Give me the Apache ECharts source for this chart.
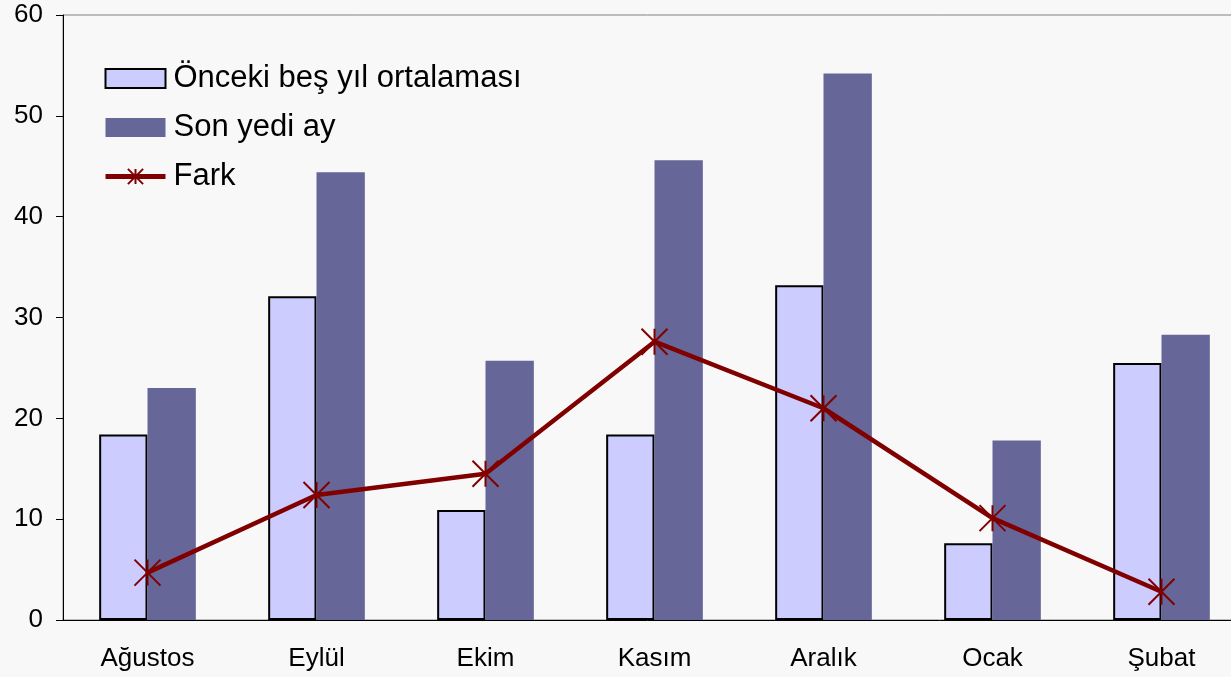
<!DOCTYPE html>
<html>
<head>
<meta charset="utf-8">
<script src="https://cdn.jsdelivr.net/npm/echarts@6/dist/echarts.min.js"></script>
<style>
  html, body { margin: 0; padding: 0; background: #F8F8F8; }
  #chart { width: 1231px; height: 677px; }
</style>
</head>
<body>
<div id="chart"></div>
<script>
// aylar
var months = ['Ağustos', 'Eylül', 'Ekim', 'Kasım', 'Aralık', 'Ocak', 'Şubat'];
var prevFiveYearAvg = [18.4, 32.1, 10.9, 18.4, 33.2, 7.6, 25.5];
var lastSevenMonths = [23.0, 44.4, 25.7, 45.6, 54.2, 17.8, 28.3];
var diff = [4.7, 12.4, 14.5, 27.6, 21.0, 10.1, 2.8];

var chart = echarts.init(document.getElementById('chart'));

var starPath = 'path://M0,0L20,20M0,20L20,0M10,0L10,20';

var option = {
    backgroundColor: '#F8F8F8',
    textStyle: { fontFamily: 'Liberation Sans, Arial, sans-serif' },
    animation: false,
    grid: {
        left: 63,
        top: 15,
        right: -15,
        bottom: 57,
        outerBoundsMode: 'none',
        show: true,
        borderColor: '#808080',
        borderWidth: 1
    },
    legend: {
        orient: 'vertical',
        left: 103,
        top: 63,
        padding: 0,
        itemWidth: 60,
        itemHeight: 19,
        itemGap: 18,
        data: [
            { name: 'Önceki beş yıl ortalaması', icon: 'rect' },
            { name: 'Son yedi ay', icon: 'rect' },
            { name: 'Fark', lineStyle: { width: 5 } }
        ],
        textStyle: {
            fontSize: 31,
            color: '#000',
            lineHeight: 30,
            padding: [0, 0, 0, 3]
        }
    },
    xAxis: {
        type: 'category',
        data: months,
        axisLine: { lineStyle: { color: '#000', width: 1 } },
        axisTick: { length: 7, lineStyle: { color: '#000' } },
        axisLabel: { fontSize: 26, color: '#000', margin: 26 }
    },
    yAxis: {
        type: 'value',
        min: 0,
        max: 60,
        interval: 10,
        axisLine: { show: true, lineStyle: { color: '#000', width: 1 } },
        axisTick: { show: true, length: 7, lineStyle: { color: '#000' } },
        splitLine: { show: false },
        axisLabel: { fontSize: 26, color: '#000', margin: 20 }
    },
    series: [
        {
            name: 'Önceki beş yıl ortalaması',
            type: 'bar',
            data: prevFiveYearAvg,
            barWidth: '28.6%',
            barGap: '0%',
            itemStyle: { color: '#CCCCFF', borderColor: '#000', borderWidth: 2 }
        },
        {
            name: 'Son yedi ay',
            type: 'bar',
            data: lastSevenMonths,
            barWidth: '28.6%',
            barGap: '0%',
            itemStyle: { color: '#666699' }
        },
        {
            name: 'Fark',
            type: 'line',
            data: diff,
            symbol: starPath,
            symbolSize: 26,
            showAllSymbol: true,
            lineStyle: { color: '#800000', width: 4.5 },
            itemStyle: { color: '#800000', borderColor: '#800000', borderWidth: 2 }
        }
    ]
};

chart.setOption(option);
</script>
</body>
</html>
